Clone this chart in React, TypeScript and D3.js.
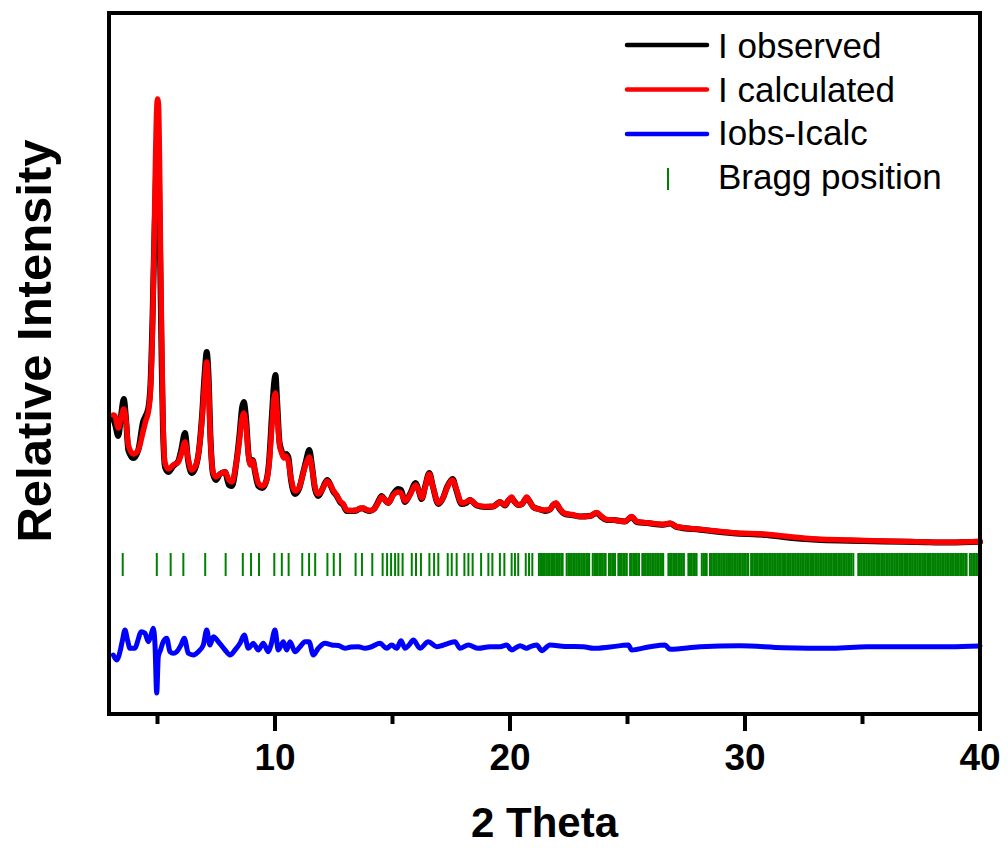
import * as d3 from 'd3';
import { useEffect, useRef } from 'react';

// 2 theta grid for the observed / calculated profiles
const twoTheta = [
  3.119, 3.191, 3.332, 3.447, 3.566, 3.66, 3.757, 3.97, 4.183, 4.383,
  4.511, 4.609, 4.702, 4.787, 4.851, 4.915, 4.966, 5.0, 5.043, 5.085,
  5.128, 5.179, 5.234, 5.319, 5.46, 5.672, 5.885, 6.0, 6.17, 6.298,
  6.455, 6.638, 6.766, 6.894, 7.0, 7.094, 7.17, 7.255, 7.362, 7.489,
  7.66, 7.872, 8.043, 8.17, 8.34, 8.489, 8.596, 8.672, 8.766, 8.872,
  8.957, 9.051, 9.149, 9.289, 9.447, 9.617, 9.745, 9.872, 9.957, 10.021,
  10.085, 10.191, 10.285, 10.383, 10.468, 10.566, 10.681, 10.851, 11.021, 11.204,
  11.319, 11.46, 11.574, 11.702, 11.843, 12.0, 12.128, 12.226, 12.34, 12.468,
  12.626, 12.766, 12.906, 13.051, 13.277, 13.477, 13.617, 13.757, 13.872, 14.043,
  14.213, 14.383, 14.54, 14.681, 14.821, 15.034, 15.247, 15.362, 15.532, 15.745,
  15.987, 16.106, 16.243, 16.383, 16.566, 16.723, 16.949, 17.149, 17.319, 17.562,
  17.702, 17.945, 18.128, 18.298, 18.583, 18.936, 19.289, 19.574, 19.787, 19.915,
  20.072, 20.17, 20.353, 20.511, 20.711, 20.851, 20.991, 21.277, 21.489, 21.702,
  21.83, 21.957, 22.128, 22.34, 22.626, 22.979, 23.404, 23.689, 23.872, 24.115,
  24.396, 24.894, 25.179, 25.391, 25.817, 26.523, 26.809, 27.094, 28.085, 29.502,
  30.923, 31.63, 33.051, 34.468, 35.885, 37.306, 38.723, 40.0
];

const iObs = [
  2950, 2900, 2780, 2980, 3150, 2950, 2640, 2560, 2640, 2920,
  2990, 3060, 3300, 3950, 4600, 5200, 5600, 5700, 5600, 5000,
  4300, 3500, 2850, 2470, 2420, 2480, 2530, 2630, 2810, 2540,
  2410, 2480, 2640, 2980, 3380, 3620, 3390, 2760, 2400, 2340,
  2400, 2420, 2290, 2280, 2490, 2790, 3060, 3120, 2960, 2600,
  2500, 2540, 2420, 2280, 2260, 2320, 2520, 3000, 3300, 3390,
  3150, 2720, 2630, 2570, 2600, 2570, 2340, 2200, 2250, 2420,
  2530, 2640, 2480, 2250, 2180, 2240, 2310, 2340, 2300, 2230,
  2180, 2120, 2090, 2030, 2030, 2035, 2055, 2055, 2040, 2030,
  2050, 2120, 2180, 2140, 2110, 2200, 2250, 2240, 2120, 2200,
  2310, 2240, 2150, 2270, 2410, 2270, 2100, 2160, 2270, 2350,
  2250, 2100, 2110, 2140, 2085, 2070, 2075, 2120, 2085, 2130,
  2160, 2130, 2090, 2100, 2160, 2120, 2070, 2045, 2030, 2045,
  2090, 2105, 2045, 2000, 1990, 1975, 1980, 2010, 1975, 1940,
  1940, 1925, 1970, 1920, 1910, 1893, 1905, 1870, 1843, 1808,
  1790, 1770, 1742, 1733, 1725, 1720, 1714, 1722
];

const iCalc = [
  2990, 2980, 2860, 2960, 3050, 2940, 2690, 2600, 2640, 2820,
  2940, 3020, 3240, 3840, 4640, 5540, 6040, 6150, 6090, 5540,
  4640, 3740, 2940, 2510, 2450, 2490, 2520, 2590, 2720, 2560,
  2440, 2490, 2640, 2940, 3290, 3520, 3290, 2740, 2420, 2370,
  2400, 2420, 2340, 2320, 2490, 2740, 2960, 3010, 2890, 2590,
  2490, 2530, 2440, 2310, 2280, 2320, 2490, 2890, 3160, 3210,
  3040, 2690, 2610, 2560, 2580, 2530, 2360, 2230, 2260, 2410,
  2500, 2570, 2460, 2270, 2200, 2240, 2300, 2330, 2300, 2240,
  2190, 2130, 2100, 2040, 2035, 2040, 2055, 2060, 2045, 2035,
  2050, 2110, 2170, 2140, 2110, 2190, 2220, 2210, 2130, 2190,
  2290, 2240, 2160, 2260, 2400, 2270, 2110, 2160, 2260, 2340,
  2260, 2110, 2120, 2140, 2090, 2075, 2075, 2120, 2090, 2130,
  2170, 2130, 2090, 2100, 2170, 2120, 2070, 2045, 2040, 2045,
  2090, 2110, 2050, 2005, 1995, 1975, 1980, 2015, 1980, 1945,
  1940, 1925, 1975, 1925, 1913, 1897, 1907, 1873, 1847, 1813,
  1797, 1780, 1750, 1740, 1730, 1723, 1717, 1725
];

// difference curve (Iobs - Icalc), drawn shifted below the profile
const diffTheta = [
  3.119, 3.264, 3.404, 3.511, 3.617, 3.723, 3.83, 4.043, 4.17, 4.298,
  4.468, 4.609, 4.723, 4.821, 4.894, 4.966, 5.034, 5.128, 5.247, 5.391,
  5.532, 5.672, 5.817, 6.0, 6.14, 6.311, 6.523, 6.736, 6.949, 7.094,
  7.234, 7.374, 7.587, 7.872, 8.085, 8.298, 8.511, 8.694, 8.864, 9.077,
  9.289, 9.502, 9.715, 9.83, 10.0, 10.14, 10.353, 10.498, 10.638, 10.851,
  11.064, 11.277, 11.447, 11.63, 11.843, 12.128, 12.413, 12.694, 12.979, 13.234,
  13.545, 13.83, 14.128, 14.468, 14.753, 14.966, 15.179, 15.362, 15.532, 15.702,
  15.885, 16.17, 16.523, 16.881, 17.106, 17.374, 17.66, 17.872, 18.226, 18.651,
  19.149, 19.574, 19.86, 20.072, 20.426, 20.711, 20.851, 21.136, 21.349, 21.702,
  22.34, 23.119, 23.545, 24.255, 25.034, 25.179, 25.957, 26.596, 26.809, 28.085,
  29.787, 31.63, 33.757, 35.179, 37.306, 38.723, 40.0
];

const diffValues = [
  -80, -130, -47, 70, 170, 70, -13, -13, 70, 153,
  137, 53, 120, 187, 20, -460, -97, -30, 53, 87,
  -47, -63, -47, 20, 87, -63, -80, -47, 20, 170,
  20, 103, 53, -30, -80, -30, 37, 120, -13, 37,
  -30, 37, -47, 20, 170, -30, 53, -30, 53, -47,
  3, 53, 53, -80, -13, 37, 20, 15, -13, 0,
  3, -13, 5, 37, -13, 20, -13, 63, -13, 20,
  70, -13, 53, 3, 15, 37, 53, -13, 20, -13,
  3, 3, 20, -30, 13, -13, 3, 20, -37, 20,
  5, 3, -13, 0, 20, -30, 3, 20, -23, 3,
  13, -7, -13, 3, 3, 2, 10
];

const braggPositions = [
  3.52, 4.97, 5.56, 6.1, 7.03, 7.9, 8.63, 8.98, 9.32, 9.97,
  10.29, 10.58, 11.16, 11.45, 11.71, 12.23, 12.5, 12.77, 13.43, 13.7,
  14.14, 14.58, 14.77, 14.94, 15.11, 15.25, 15.43, 15.82, 16.0, 16.21,
  16.57, 16.77, 16.95, 17.35, 17.52, 17.73, 18.06, 18.23, 18.41, 18.77,
  19.08, 19.25, 19.57, 19.76, 20.07, 20.21, 20.35, 20.67, 20.81, 20.95,
  21.23, 21.3, 21.36, 21.42, 21.48, 21.55, 21.62, 21.69, 21.76, 21.83,
  21.9, 21.97, 22.04, 22.11, 22.18, 22.24,
  22.41, 22.48, 22.55, 22.62, 22.69, 22.76, 22.83, 22.9, 22.97, 23.04,
  23.11, 23.18, 23.25, 23.32, 23.37,
  23.52, 23.59, 23.66, 23.73, 23.8, 23.87, 23.94, 24.01, 24.07,
  24.21, 24.28, 24.35, 24.42, 24.47,
  24.61, 24.68, 24.75, 24.82, 24.89, 24.97,
  25.11, 25.18, 25.25, 25.32, 25.39, 25.46, 25.49,
  25.63, 25.7, 25.77, 25.84, 25.91, 25.98, 26.05, 26.12, 26.19, 26.26,
  26.33, 26.4, 26.47, 26.52,
  26.74, 26.81, 26.88, 26.95, 27.02, 27.09, 27.16, 27.23, 27.3, 27.37, 27.4,
  27.59, 27.66, 27.73, 27.8, 27.87, 27.94,
  28.16, 28.23, 28.3, 28.37,
  28.51, 28.58, 28.65, 28.72, 28.79, 28.86, 28.93, 29.0, 29.07, 29.14,
  29.21, 29.28, 29.33,
  29.4, 29.47, 29.54, 29.61, 29.68, 29.75, 29.82, 29.89, 29.96, 30.03,
  30.1, 30.14,
  30.26, 30.33, 30.4, 30.47, 30.54, 30.61, 30.68, 30.75, 30.82, 30.89,
  30.96, 31.03, 31.1, 31.17, 31.24, 31.31, 31.38, 31.45, 31.52, 31.59,
  31.66, 31.73, 31.8, 31.87, 31.94, 32.01, 32.08, 32.15, 32.22, 32.29,
  32.36, 32.43, 32.5, 32.57, 32.64, 32.71, 32.78, 32.85, 32.92, 32.99,
  33.06, 33.13, 33.2, 33.27, 33.34, 33.41, 33.48, 33.55, 33.62, 33.69,
  33.76, 33.83, 33.9, 33.97, 34.04, 34.11, 34.18, 34.25, 34.32, 34.39,
  34.46, 34.53, 34.61,
  34.82, 34.89, 34.96, 35.03, 35.1, 35.17, 35.24, 35.31, 35.38, 35.45,
  35.52, 35.59, 35.66, 35.73, 35.8, 35.87, 35.94, 36.01, 36.08, 36.15,
  36.22, 36.29, 36.36, 36.43, 36.5, 36.57, 36.64, 36.71, 36.78, 36.85,
  36.92, 36.99, 37.06, 37.13, 37.2, 37.27, 37.34, 37.41, 37.48, 37.55,
  37.62, 37.69, 37.76, 37.83, 37.9, 37.97, 38.04, 38.11, 38.18, 38.25,
  38.32, 38.39, 38.46, 38.53, 38.6, 38.67, 38.74, 38.81, 38.88, 38.95,
  39.02, 39.09, 39.16, 39.23, 39.3, 39.37, 39.43,
  39.57, 39.64, 39.71, 39.78, 39.85, 39.92, 39.97
];

const majorTicks = [10, 20, 30, 40];
const minorTicks = [5, 15, 25, 35];

const legendItems = ['I observed', 'I calculated', 'Iobs-Icalc', 'Bragg position'];
const legendColors = ['#000000', '#ff0000', '#0000ff', '#008000'];

const DIFF_OFFSET = 670;
const BRAGG_LOW = 1380;
const BRAGG_HIGH = 1610;

const FONT = '"Liberation Sans", Arial, sans-serif';

function App() {
  const ref = useRef<SVGSVGElement>(null);

  useEffect(() => {
    const width = 1008;
    const height = 848;
    const m = { left: 109, right: 980, top: 13, bottom: 714 };

    const svg = d3.select(ref.current);
    svg.selectAll('*').remove();
    svg.attr('width', width).attr('height', height);

    svg.append('rect').attr('width', width).attr('height', height).attr('fill', '#fff');

    const x = d3.scaleLinear().domain([2.936, 40]).range([m.left, m.right]);
    const y = d3.scaleLinear().domain([0, 7010]).range([m.bottom, m.top]);

    const plot = svg.append('g');

    // Bragg ticks
    plot.selectAll('line.bragg')
      .data(braggPositions)
      .enter()
      .append('line')
      .attr('class', 'bragg')
      .attr('x1', d => x(d))
      .attr('x2', d => x(d))
      .attr('y1', y(BRAGG_HIGH))
      .attr('y2', y(BRAGG_LOW))
      .attr('stroke', '#008000')
      .attr('stroke-width', 2);

    const line = d3.line<[number, number]>()
      .x(d => x(d[0]))
      .y(d => y(d[1]))
      .curve(d3.curveMonotoneX);

    const diffPts = diffTheta.map((t, i) => [t, diffValues[i] + DIFF_OFFSET] as [number, number]);
    const obsPts = twoTheta.map((t, i) => [t, iObs[i]] as [number, number]);
    const calcPts = twoTheta.map((t, i) => [t, iCalc[i]] as [number, number]);

    plot.append('path')
      .attr('d', line(diffPts))
      .attr('fill', 'none')
      .attr('stroke', '#0000ff')
      .attr('stroke-width', 5)
      .attr('stroke-linejoin', 'round')
      .attr('stroke-linecap', 'round');

    plot.append('path')
      .attr('d', line(obsPts))
      .attr('fill', 'none')
      .attr('stroke', '#000')
      .attr('stroke-width', 6)
      .attr('stroke-linejoin', 'round')
      .attr('stroke-linecap', 'round');

    plot.append('path')
      .attr('d', line(calcPts))
      .attr('fill', 'none')
      .attr('stroke', '#ff0000')
      .attr('stroke-width', 5.5)
      .attr('stroke-linejoin', 'round')
      .attr('stroke-linecap', 'round');

    // frame
    svg.append('rect')
      .attr('x', m.left)
      .attr('y', m.top)
      .attr('width', m.right - m.left)
      .attr('height', m.bottom - m.top)
      .attr('fill', 'none')
      .attr('stroke', '#000')
      .attr('stroke-width', 4);

    // x ticks
    svg.selectAll('line.major')
      .data(majorTicks)
      .enter()
      .append('line')
      .attr('x1', d => x(d))
      .attr('x2', d => x(d))
      .attr('y1', m.bottom)
      .attr('y2', m.bottom + 17)
      .attr('stroke', '#000')
      .attr('stroke-width', 4);

    svg.selectAll('line.minor')
      .data(minorTicks)
      .enter()
      .append('line')
      .attr('x1', d => x(d))
      .attr('x2', d => x(d))
      .attr('y1', m.bottom)
      .attr('y2', m.bottom + 10)
      .attr('stroke', '#000')
      .attr('stroke-width', 4);

    svg.selectAll('text.tick')
      .data(majorTicks)
      .enter()
      .append('text')
      .attr('x', d => x(d))
      .attr('y', 770)
      .attr('text-anchor', 'middle')
      .style('font-family', FONT)
      .style('font-weight', 'bold')
      .style('font-size', '37px')
      .text(d => d);

    svg.append('text')
      .attr('x', (m.left + m.right) / 2)
      .attr('y', 837)
      .attr('text-anchor', 'middle')
      .style('font-family', FONT)
      .style('font-weight', 'bold')
      .style('font-size', '42px')
      .text('2 Theta');

    svg.append('text')
      .attr('transform', `translate(51, 341) rotate(-90)`)
      .attr('text-anchor', 'middle')
      .style('font-family', FONT)
      .style('font-weight', 'bold')
      .style('font-size', '49px')
      .text('Relative Intensity');

    // legend
    const legend = svg.append('g');
    legendItems.forEach((label, i) => {
      const cy = 45 + i * 44.5;
      if (i < 3) {
        legend.append('line')
          .attr('x1', 627).attr('x2', 707)
          .attr('y1', cy).attr('y2', cy)
          .attr('stroke', legendColors[i])
          .attr('stroke-width', 4.5)
          .attr('stroke-linecap', 'round');
      } else {
        legend.append('line')
          .attr('x1', 668).attr('x2', 668)
          .attr('y1', 168).attr('y2', 190)
          .attr('stroke', legendColors[i])
          .attr('stroke-width', 2);
      }
      legend.append('text')
        .attr('x', 718)
        .attr('y', 58 + i * 43.5)
        .style('font-family', FONT)
        .style('font-size', '35px')
        .text(label);
    });
  }, []);

  return (
    <svg ref={ref} style={{ position: 'absolute', left: 0, top: 0, display: 'block' }}></svg>
  );
}

export default App;
